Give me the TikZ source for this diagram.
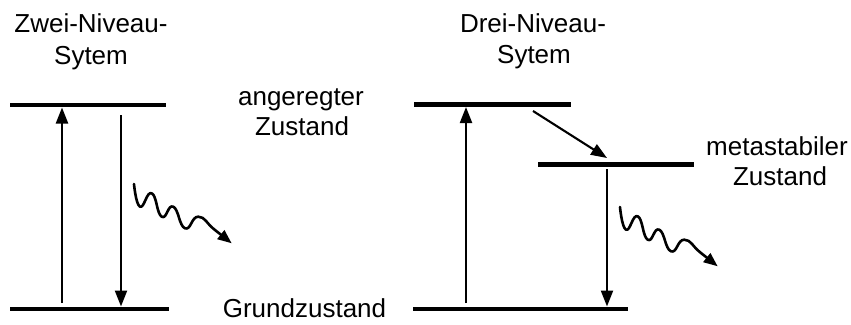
\documentclass[tikz,border=0pt]{standalone}
\usepackage{fontspec}
\setmainfont{Liberation Sans}
\usetikzlibrary{arrows.meta}
\begin{document}
\begin{tikzpicture}[x=1pt,y=-1pt,
  level/.style={line width=4.5pt},
  trans/.style={line width=2.1pt,-{Triangle[length=16pt,width=12pt]}},
  wavy/.style={line width=2.6pt,line join=round,line cap=round,-{Triangle[length=14pt,width=11pt]}},
  lbl/.style={inner sep=0pt,anchor=base,font=\fontsize{26pt}{32pt}\selectfont},
  wave/.pic={\draw[wavy] plot[smooth,tension=0.85] coordinates{(0,0) (6,22.7) (17.7,9.3) (27.7,32.7) (39.3,22.7) (51,44.3) (64.3,32.7) (80,45.2) (97.7,59.3)};}
]
\useasboundingbox (0,0) rectangle (851,324);

% titles
\node[lbl] (zwA) at (91,32) {Zwei-Niveau-};
\node[lbl] (zwB) at (91,64) {Sytem};
\node[lbl] (drA) at (533,32) {Drei-Niveau-};
\node[lbl] (drB) at (534,63) {Sytem};

% state labels
\node[lbl] (angA) at (301,105) {angeregter};
\node[lbl] (angB) at (302,135) {Zustand};
\node[lbl] (metA) at (777,155) {metastabiler};
\node[lbl] (metB) at (780,185) {Zustand};
\node[lbl] (grund) at (304.5,317) {Grundzustand};

% levels, two-level system
\coordinate (LtA) at (10,105);  \coordinate (LtB) at (166,105);
\coordinate (LbA) at (10,309);  \coordinate (LbB) at (169,309);
\draw[level] (LtA) -- (LtB);
\draw[level] (LbA) -- (LbB);

% levels, three-level system
\coordinate (RtA) at (414,104.5); \coordinate (RtB) at (571,104.5);
\coordinate (RmA) at (538,164.5); \coordinate (RmB) at (694,164.5);
\coordinate (RbA) at (413,309);   \coordinate (RbB) at (628,309);
\draw[level] (RtA) -- (RtB);
\draw[level] (RmA) -- (RmB);
\draw[level] (RbA) -- (RbB);

% transitions, two-level
\coordinate (a1s) at (62,303);  \coordinate (a1e) at (62,107.5);
\coordinate (a2s) at (121,115); \coordinate (a2e) at (121,306.5);
\draw[trans] (a1s) -- (a1e);
\draw[trans] (a2s) -- (a2e);

% transitions, three-level
\coordinate (b1s) at (466,303); \coordinate (b1e) at (466,107);
\coordinate (b2s) at (533,111); \coordinate (b2e) at (607,158);
\coordinate (b3s) at (607,169); \coordinate (b3e) at (607,306.5);
\draw[trans] (b1s) -- (b1e);
\draw[trans] (b2s) -- (b2e);
\draw[trans] (b3s) -- (b3e);

% emitted photons
\coordinate (w1) at (134,184);
\coordinate (w2) at (620,207);
\pic at (w1) {wave};
\pic at (w2) {wave};
\end{tikzpicture}
\end{document}
